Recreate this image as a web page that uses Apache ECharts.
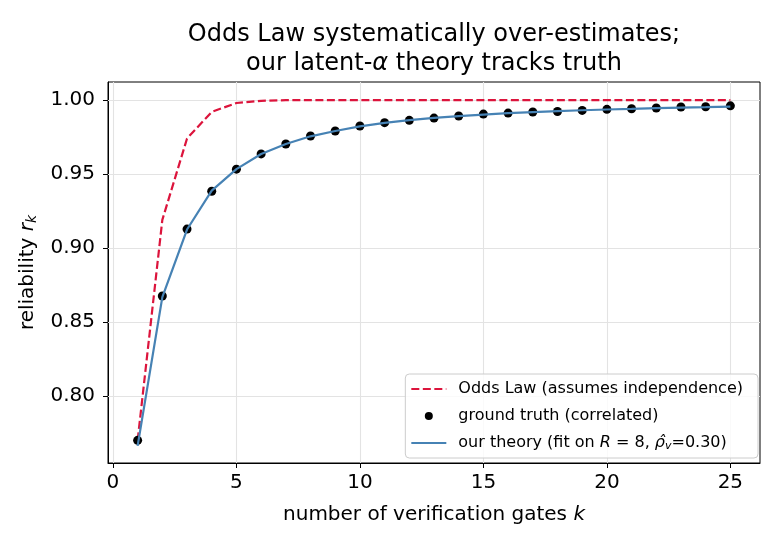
<!DOCTYPE html>
<html><head><meta charset="utf-8">
<script src="https://cdn.jsdelivr.net/npm/echarts@6/dist/echarts.min.js"></script>
<style>html,body{margin:0;padding:0;background:#fff}#c{width:780px;height:546px}</style>
</head><body><div id="c"></div>
<script>
const gates = [1,2,3,4,5,6,7,8,9,10,11,12,13,14,15,16,17,18,19,20,21,22,23,24,25];
const oddsLaw = [0.770,0.919,0.974,0.992,0.998,0.9995,0.9999,1.0,1.0,1.0,1.0,1.0,1.0,1.0,1.0,1.0,1.0,1.0,1.0,1.0,1.0,1.0,1.0,1.0,1.0];
const groundTruth = [0.770,0.8676,0.9128,0.9384,0.9533,0.9636,0.9703,0.9757,0.9791,0.9825,0.9847,0.9863,0.9878,0.9892,0.9905,0.9912,0.9919,0.9923,0.9930,0.9937,0.9941,0.9946,0.9953,0.9955,0.9961];
const theory = [0.7663,0.8668,0.9125,0.9388,0.9533,0.9635,0.9703,0.9755,0.9791,0.9822,0.9846,0.9864,0.9879,0.9891,0.9902,0.9911,0.9918,0.9925,0.9931,0.9936,0.9940,0.9945,0.9949,0.9952,0.9956];
const xTicks = [0,5,10,15,20,25];
const yTicks = [0.80,0.85,0.90,0.95,1.00];
const xRange = [-0.2, 26.2];
const yRange = [0.7547, 1.0122];
const names = ['Odds Law (assumes independence)','ground truth (correlated)','our theory (fit on R = 8, ρ̂v=0.30)'];

const F = 'DejaVu Sans';
const pair = (ys) => gates.map((x, i) => [x, ys[i]]);
const gridLines = yTicks.map(v => ({yAxis: v})).concat(xTicks.map(v => ({xAxis: v})));
const hiddenSymbol = {color: 'rgba(0,0,0,0)', borderWidth: 0, opacity: 0};

const chart = echarts.init(document.getElementById('c'), null, {renderer: 'canvas'});
chart.setOption({
  animation: false,
  backgroundColor: '#fff',
  title: {
    text: 'Odds Law systematically over-estimates;\nour latent-{i|α} theory tracks truth',
    left: 429, top: 15, textAlign: 'center',
    textStyle: {fontFamily: F, fontSize: 24, fontWeight: 'normal', color: '#000', lineHeight: 29,
      rich: {i: {fontFamily: F, fontSize: 24, fontStyle: 'italic', color: '#000', lineHeight: 29}}}
  },
  grid: {left: 108, right: 20, top: 82, bottom: 83, show: true, borderColor: '#000', borderWidth: 1, backgroundColor: 'transparent'},
  legend: {
    orient: 'vertical', right: 22, top: 374,
    data: [
      {name: names[0], itemStyle: hiddenSymbol},
      {name: names[1]},
      {name: names[2], itemStyle: hiddenSymbol}
    ],
    itemWidth: 35, itemHeight: 8, itemGap: 9,
    padding: [6, 15, 6, 5],
    borderColor: '#cccccc', borderWidth: 1, borderRadius: 4,
    backgroundColor: 'rgba(255,255,255,0.8)',
    formatter: function (n) {
      if (n === names[2]) return 'our theory (fit on {i|R} = 8, {i|ρ̂}{s|v}=0.30)';
      return n;
    },
    textStyle: {fontFamily: F, fontSize: 16, color: '#000', lineHeight: 18, padding: [0,0,0,7],
      rich: {i: {fontFamily: F, fontSize: 16, fontStyle: 'italic', color: '#000', lineHeight: 18},
             s: {fontFamily: F, fontSize: 11, fontStyle: 'italic', color: '#000', lineHeight: 11, verticalAlign: 'bottom'}}}
  },
  xAxis: {
    type: 'value', min: xRange[0], max: xRange[1],
    name: 'number of verification gates {i|k}', nameLocation: 'middle', nameGap: 42,
    nameTextStyle: {fontFamily: F, fontSize: 20, color: '#000',
      rich: {i: {fontFamily: F, fontSize: 20, fontStyle: 'italic', color: '#000'}}},
    axisLine: {show: true, onZero: false, lineStyle: {color: '#000', width: 1}},
    axisTick: {show: true, customValues: xTicks, length: 5, lineStyle: {color: '#000', width: 1}},
    axisLabel: {customValues: xTicks, fontFamily: F, fontSize: 20, color: '#000', margin: 10},
    splitLine: {show: false}
  },
  yAxis: {
    type: 'value', min: yRange[0], max: yRange[1],
    name: 'reliability {i|r}{s|k}', nameLocation: 'middle', nameGap: 66, nameRotate: 90,
    nameTextStyle: {fontFamily: F, fontSize: 20, color: '#000', lineHeight: 24,
      rich: {i: {fontFamily: F, fontSize: 20, fontStyle: 'italic', color: '#000', lineHeight: 24},
             s: {fontFamily: F, fontSize: 14, fontStyle: 'italic', color: '#000', lineHeight: 14, verticalAlign: 'bottom'}}},
    axisLine: {show: true, onZero: false, lineStyle: {color: '#000', width: 1}},
    axisTick: {show: true, customValues: yTicks, length: 5, lineStyle: {color: '#000', width: 1}},
    axisLabel: {customValues: yTicks, fontFamily: F, fontSize: 20, color: '#000', margin: 13,
      formatter: v => v.toFixed(2)},
    splitLine: {show: false}
  },
  series: [
    {
      name: 'gridlines', type: 'line', data: [], z: 1, silent: true,
      markLine: {z: 1, silent: true, symbol: ['none','none'], label: {show: false}, animation: false,
        emphasis: {disabled: true},
        lineStyle: {color: '#e3e3e3', type: 'solid', width: 1.1}, data: gridLines}
    },
    {
      name: names[0], type: 'line', data: pair(oddsLaw), z: 3,
      showSymbol: false, symbol: 'none',
      lineStyle: {color: '#DC143C', width: 2.2, type: [8, 3.5]},
      itemStyle: {color: '#DC143C'}
    },
    {
      name: names[1], type: 'scatter', data: pair(groundTruth), z: 4,
      symbol: 'circle', symbolSize: 9,
      itemStyle: {color: '#000', opacity: 1}
    },
    {
      name: names[2], type: 'line', data: pair(theory), z: 5,
      showSymbol: false, symbol: 'none',
      lineStyle: {color: '#4682B4', width: 2.2},
      itemStyle: {color: '#4682B4'}
    }
  ]
});
</script>
</body></html>
